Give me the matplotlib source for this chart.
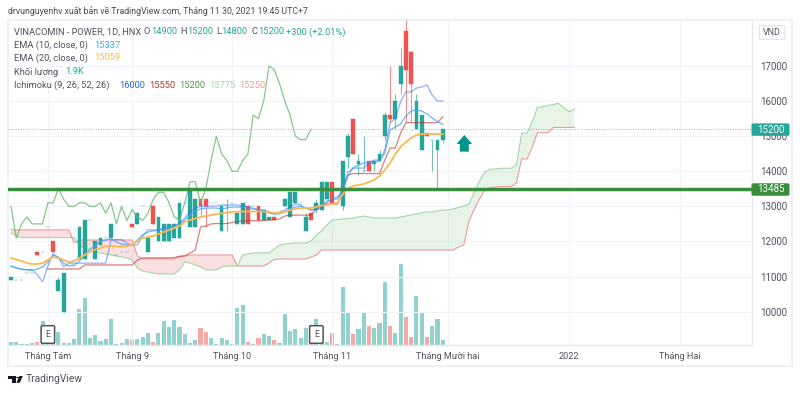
# VINACOMIN - POWER daily chart, TradingView look

import matplotlib
matplotlib.use("Agg")
import matplotlib.pyplot as plt
from matplotlib.patches import Rectangle, FancyBboxPatch, Polygon, Circle

plt.rcParams['font.family'] = ['Roboto', 'DejaVu Sans']

opens = [10900, 10900, 10900, 11100, 11100, 11700, 11700, 12400, 12000, 10600,
         10000, 11400, 11300, 11500, 11500, 12600, 11500, 11900, 12100, 12100,
         11600, 11700, 11700, 12500, 12500, 13000, 11700, 13000, 12000, 12000,
         12000, 12100, 12100, 13100, 12400, 12400, 13200, 13200, 13100, 13100,
         12300, 13000, 13100, 12500, 12500, 13000, 13000, 13000, 12600, 12600,
         12700, 12800, 13000, 12700, 13100, 13100, 12300, 12800, 12900, 12900,
         13200, 13700, 13500, 13000, 14400, 15500, 14200, 14000, 14300, 14200,
         14300, 15000, 15600, 15500, 16500, 18000, 17400, 15200, 14600, 15100,
         14900, 14600, 14900]
highs = [11000, 10900, 10900, 11100, 11100, 11700, 11700, 12400, 12000, 11000,
         11100, 11400, 11300, 12400, 12600, 12600, 12000, 12100, 12100, 12500,
         11600, 11700, 11700, 12500, 12800, 13000, 12100, 13000, 12700, 12500,
         12500, 12500, 13100, 13100, 13500, 13200, 13200, 13200, 13100, 13100,
         13000, 13200, 13100, 12800, 13100, 13000, 13000, 13000, 12900, 12700,
         12700, 12800, 13200, 13400, 13400, 13100, 12800, 12800, 13200, 13700,
         13700, 13700, 13500, 14300, 15100, 15500, 14500, 15000, 14300, 14300,
         14600, 15700, 17000, 16200, 17500, 18300, 17400, 16200, 15600, 15100,
         14900, 14900, 15200]
lows = [10900, 10900, 10900, 11100, 11100, 11600, 11700, 12400, 11700, 10600,
        10000, 11400, 11300, 11500, 11500, 12600, 11500, 11900, 12100, 12100,
        11600, 11700, 11700, 12400, 12500, 13000, 11700, 12500, 12000, 12000,
        12000, 12100, 12100, 13100, 12400, 12400, 12700, 12400, 13100, 13100,
        12300, 12300, 13100, 12500, 12500, 12500, 13000, 12600, 12600, 12600,
        12600, 12800, 13000, 12700, 13100, 13100, 12300, 12600, 12800, 12900,
        13200, 13100, 13500, 12900, 14100, 14500, 13900, 14000, 14000, 14000,
        14300, 14900, 15400, 15200, 16200, 15400, 15400, 15200, 14600, 15000,
        14000, 13500, 14800]
closes = [11000, 10900, 10900, 11100, 11100, 11600, 11700, 12400, 11700, 10900,
          11100, 11400, 11300, 12400, 12600, 12600, 12000, 12100, 12100, 12500,
          11600, 11700, 11700, 12400, 12800, 13000, 12100, 12500, 12700, 12500,
          12500, 12500, 13100, 13100, 13500, 13200, 13000, 13000, 13100, 13100,
          13000, 13000, 13100, 12800, 13100, 12500, 13000, 12600, 12900, 12700,
          12600, 12800, 13200, 13400, 13400, 13100, 12700, 12600, 13100, 13700,
          13700, 13100, 13500, 14300, 15000, 14500, 14300, 14000, 14000, 14300,
          14500, 15600, 15500, 16000, 17000, 16900, 16500, 16000, 15600, 15000,
          14900, 14900, 15200]
volumes = [1.0, 1.3, 0.3, 0.4, 0.8, 1.1, 9.1, 0.4, 0.6, 4.9,
           0.6, 0.6, 2.3, 13.7, 17.9, 2.7, 3.8, 1.5, 2.3, 9.9,
           0.4, 0.6, 2.3, 1.9, 2.3, 3.0, 4.6, 1.0, 4.6, 9.1,
           6.8, 9.5, 6.8, 4.2, 0.8, 1.9, 6.5, 4.9, 2.7, 0.4,
           2.5, 1.9, 0.4, 14.1, 15.2, 1.0, 0.4, 2.5, 4.2, 3.4,
           1.9, 0.8, 11.8, 5.3, 5.9, 2.5, 6.3, 0.8, 9.9, 1.1,
           1.1, 4.6, 0.4, 22.0, 12.2, 4.2, 5.9, 12.5, 7.4, 6.5,
           8.4, 23.9, 7.4, 4.6, 30.8, 10.8, 3.0, 18.6, 12.2, 3.0,
           7.2, 9.9, 1.9]

ema10 = [11300, 11243, 11215, 11186, 11172, 11215, 11272, 11414, 11614, 11557,
         11385, 11300, 11329, 11442, 11614, 11785, 11870, 12012, 12041, 12070,
         11984, 11927, 11899, 11899, 12041, 12184, 12269, 12298, 12326, 12355,
         12383, 12440, 12497, 12611, 12754, 12868, 12925, 12953, 12953, 12953,
         12925, 12953, 12981, 12981, 12981, 12953, 12925, 12896, 12868, 12811,
         12782, 12782, 12839, 12925, 12981, 13010, 12953, 12896, 12925, 13039,
         13152, 13210, 13210, 13466, 13865, 14093, 14179, 14235, 14264, 14264,
         14293, 14520, 15176, 15262, 15347, 15575, 15717, 15746, 15717, 15632,
         15518, 15418, 15337]
ema20 = [11528, 11485, 11442, 11385, 11357, 11357, 11385, 11471, 11557, 11528,
         11471, 11414, 11442, 11528, 11614, 11699, 11770, 11813, 11870, 11870,
         11856, 11856, 11870, 11899, 12012, 12098, 12126, 12155, 12212, 12269,
         12326, 12383, 12440, 12554, 12611, 12654, 12696, 12725, 12754, 12782,
         12796, 12825, 12839, 12848, 12853, 12853, 12853, 12853, 12853, 12839,
         12811, 12811, 12839, 12896, 12925, 12953, 12953, 12953, 12981, 13024,
         13039, 13067, 13095, 13352, 13509, 13580, 13609, 13637, 13694, 13751,
         13865, 14036, 14235, 14492, 14692, 14834, 14948, 15034, 15062, 15062,
         15062, 15062, 15059]
conversion = [11300, 11250, 11200, 11200, 11200, 11050, 10850, 11300, 11650, 11530,
              11280, 11380, 11380, 11380, 11380, 11380, 11380, 11380, 11380, 12050,
              12050, 12050, 11950, 11900, 11900, 12150, 12330, 12330, 12330, 12380,
              12380, 12440, 12500, 12670, 12840, 12950, 13000, 13000, 13010, 13010,
              13040, 13040, 13040, 13040, 13010, 12980, 12950, 12900, 12900, 12840,
              12780, 12840, 12900, 12980, 13070, 13040, 12950, 12900, 12900, 12980,
              13100, 13210, 13270, 13470, 13980, 14090, 14090, 14090, 14260, 14320,
              14320, 14610, 15375, 15520, 15980, 16260, 16260, 16370, 16400, 16460,
              16170, 16000, 16000]
# base line only shows from bar 7
base_start = 7
base = [11215, 11215, 11215, 11215, 11215, 11215, 11215, 11330, 11330, 11330,
        11330, 11330, 11330, 11330, 11330, 11330, 11330, 11470, 11530, 11530,
        11530, 11530, 11530, 11530, 11540, 11570, 11590, 11670, 11755, 12410,
        12440, 12500, 12510, 12510, 12510, 12540, 12570, 12580, 12590, 12590,
        12590, 12600, 12610, 12620, 12640, 12725, 12750, 12750, 12750, 12750,
        12750, 12925, 13050, 13065, 13065, 13065, 13470, 13890, 13935, 13935,
        13935, 13935, 13935, 13935, 14320, 14660, 14660, 15090, 15385, 15385,
        15385, 15385, 15385, 15385, 15385, 15550]
# closes shifted back 25 bars
lagging = [13000, 12100, 12500, 12700, 12500, 12500, 12500, 13100, 13100, 13500,
           13200, 13000, 13000, 13100, 13100, 13000, 13000, 13100, 12800, 13100,
           12500, 13000, 12600, 12900, 12700, 12600, 12800, 13200, 13400, 13400,
           13100, 12700, 12600, 13100, 13700, 13700, 13100, 13500, 14300, 15000,
           14500, 14300, 14000, 14000, 14300, 14500, 15600, 15500, 16000, 17000,
           16900, 16500, 16000, 15600, 15000, 14900, 14900, 15200]
lead_a = [12240, 12155, 12110, 12110, 12110, 12110, 12110, 12110, 12110, 12110,
          12110, 12110, 12110, 11870, 11813, 11756, 11699, 11670, 11642, 11614,
          11585, 11557, 11528, 11471, 11243, 11157, 11129, 11100, 11072, 11072,
          11072, 11072, 11186, 11414, 11385, 11329, 11272, 11186, 11186, 11186,
          11272, 11300, 11300, 11300, 11614, 11642, 11670, 11670, 11680, 11670,
          11785, 11899, 11927, 11941, 11955, 11955, 11955, 12012, 12184, 12298,
          12469, 12611, 12625, 12640, 12648, 12668, 12696, 12725, 12696, 12668,
          12668, 12668, 12668, 12668, 12696, 12725, 12754, 12782, 12811, 12839,
          12839, 12868, 12896, 12896, 12925, 12967, 13010, 13067, 13409, 13722,
          13979, 14056, 14065, 14085, 14085, 14085, 14179, 15082, 15082, 15404,
          15823, 15840, 15874, 15903, 15937, 15803, 15698, 15775]
lead_b = [12330, 12330, 12330, 12330, 12330, 12330, 12330, 12330, 12330, 12330,
          12330, 12330, 11955, 12041, 12041, 12041, 12041, 12041, 12041, 12041,
          12041, 12041, 12041, 12041, 11585, 11500, 11500, 11500, 11500, 11500,
          11500, 11500, 11585, 11585, 11614, 11614, 11614, 11614, 11614, 11614,
          11614, 11614, 11614, 11300, 11300, 11300, 11300, 11300, 11300, 11385,
          11485, 11500, 11500, 11500, 11500, 11500, 11500, 11557, 11614, 11756,
          11756, 11756, 11756, 11756, 11756, 11756, 11756, 11756, 11756, 11756,
          11756, 11756, 11756, 11756, 11756, 11756, 11756, 11756, 11756, 11756,
          11756, 11756, 11756, 11756, 11756, 11840, 11899, 12583, 12925, 13210,
          13480, 13523, 13552, 13560, 13560, 13560, 13665, 14350, 14350, 14690,
          15100, 15100, 15100, 15250, 15250, 15250, 15250, 15250]

date_ticks = [7, 23, 42, 61, 83, 106, 127]
date_labels = ["Tháng Tám", "Tháng 9", "Tháng 10", "Tháng 11", "Tháng Mười hai", "2022", "Tháng Hai"]
price_ticks = [10000, 11000, 12000, 13000, 14000, 15000, 16000, 17000]
earnings_bars = [7, 58]
support_price = 13485
last_price = 15200

TEAL = '#26a69a'
RED = '#ef5350'
W, H = 800, 393


def fx(px):
    return px / W


def fy(px):
    return 1 - px / H


fig = plt.figure(figsize=(8, 3.93), dpi=100, facecolor='white')
pos = [fx(7.5), fy(345), fx(752 - 7.5), (345 - 20) / H]

ax_vol = fig.add_axes(pos, zorder=1)
ax = fig.add_axes(pos, zorder=2, sharex=ax_vol)
ax.patch.set_visible(False)

# Volume
bars = list(range(len(closes)))
vol_colors = [RED if c < o else TEAL for o, c in zip(opens, closes)]
ax_vol.bar(bars, volumes, width=0.78, color=vol_colors, alpha=0.5, linewidth=0)
ax_vol.set_ylim(0, 123.5)
ax_vol.axis('off')

# Cloud
cloud_x = list(range(len(lead_a)))
ax.fill_between(cloud_x, lead_a, lead_b, where=[a >= b for a, b in zip(lead_a, lead_b)],
                interpolate=True, color='#a5d6a7', alpha=0.25, linewidth=0, zorder=1)
ax.fill_between(cloud_x, lead_a, lead_b, where=[a < b for a, b in zip(lead_a, lead_b)],
                interpolate=True, color='#ef9a9a', alpha=0.3, linewidth=0, zorder=1)
ax.plot(cloud_x, lead_a, color='#a5d6a7', lw=0.8, zorder=2)
ax.plot(cloud_x, lead_b, color='#ef9a9a', lw=0.8, zorder=2)

# Candles
candle_colors = vol_colors
ax.vlines(bars, lows, highs, colors=candle_colors, lw=0.8, alpha=0.65, zorder=3)
ax.bar(bars, [abs(c - o) for o, c in zip(opens, closes)], bottom=[min(o, c) for o, c in zip(opens, closes)],
       width=0.72, color=candle_colors, edgecolor=candle_colors, linewidth=0.3, zorder=4)

# Indicators
ax.plot(range(len(lagging)), lagging, color='#66bb6a', lw=0.9, alpha=0.8, zorder=5)
ax.plot(range(base_start, base_start + len(base)), base, color='#c62828', lw=0.9, alpha=0.6, zorder=5)
ax.plot(bars, conversion, color='#2962ff', lw=0.9, alpha=0.5, zorder=5)
ax.plot(bars, ema10, color='#42a5f5', lw=0.9, alpha=0.8, zorder=6)
ax.plot(bars, ema20, color='#ffb74d', lw=1.3, zorder=6)

ax.axhline(last_price, color=TEAL, lw=0.7, ls=(0, (1, 1.5)), alpha=0.6, zorder=6)
ax.axhline(support_price, color='#388e3c', lw=2.5, zorder=7)

# Up arrow
ax.arrow(86.1, 14558, 0, 476, width=1.7, head_width=2.96, head_length=257,
         length_includes_head=True, color='#009688', linewidth=0, zorder=7)

# Axes
ax.set_xlim((7.5 - 11) / 5.265, (752 - 11) / 5.265)
ax.set_ylim(18881 - 28.5 * 345, 18881 - 28.5 * 20)
ax.yaxis.tick_right()
ax.set_yticks(price_ticks)
ax.set_xticks(date_ticks)
ax.set_xticklabels(date_labels)
ax.tick_params(axis='both', length=0, labelcolor='#50535e')
ax.tick_params(axis='y', pad=6, labelsize=7)
ax.tick_params(axis='x', pad=5, labelsize=6.6)
ax.grid(color='#f0f3fa', lw=0.8)
ax.set_axisbelow(True)
for side in ['top', 'left']:
    ax.spines[side].set_visible(False)
for side in ['bottom', 'right']:
    ax.spines[side].set_color('#e6e8ee')
    ax.spines[side].set_linewidth(1)

# Earnings markers
for b in earnings_bars:
    ax.text(b, 9348, "E", ha='center', va='center', fontsize=6.2, color='#50535e', zorder=8,
            bbox=dict(boxstyle='round,pad=0.5,rounding_size=0.15', fc='white', ec='#50535e', lw=1.1))

# Frame around chart
fig.add_artist(Rectangle((fx(7.5), fy(365.7)), fx(792 - 7.5), (365.7 - 20) / H, fill=False,
                         ec='#eceef4', lw=1.2, transform=fig.transFigure))

# Price labels
for val, y, col in [(last_price, 129.6, TEAL), (support_price, 189.5, '#388e3c')]:
    fig.add_artist(FancyBboxPatch((fx(753.5), fy(y + 5)), fx(34), 10 / H, boxstyle='round,pad=0.002',
                                  fc=col, ec=col, lw=0.5, transform=fig.transFigure, zorder=10))
    fig.text(fx(771), fy(y), str(val), color='white', fontsize=7, ha='center', va='center', zorder=11)

# Currency badge
fig.add_artist(FancyBboxPatch((fx(761), fy(38.5)), fx(22.5), 12 / H, boxstyle='round,pad=0.002',
                              fc='white', ec='#e0e3eb', lw=0.8, transform=fig.transFigure))
fig.text(fx(772.2), fy(32.5), "VND", color='#50535e', fontsize=6.4, ha='center', va='center')

# Header and legend
fig.text(fx(8), fy(11), "drvunguyenhv xuất bản về TradingView.com, Tháng 11 30, 2021 19:45 UTC+7",
         color='#4a4a4a', fontsize=6.3, va='center')

legend_rows = [
    (32, [(14, "VINACOMIN - POWER, 1D, HNX", '#50535e'), (144, "O", '#50535e'), (151, "14900", TEAL),
          (180, "H", '#50535e'), (187, "15200", TEAL), (216, "L", '#50535e'), (221.5, "14800", TEAL),
          (251.5, "C", '#50535e'), (258, "15200", TEAL), (286, "+300 (+2.01%)", TEAL)]),
    (45, [(14, "EMA (10, close, 0)", '#50535e'), (94, "15337", '#42a5f5')]),
    (58, [(14, "EMA (20, close, 0)", '#50535e'), (94, "15059", '#ffb74d')]),
    (72, [(14, "Khối lượng", '#50535e'), (65.5, "1.9K", TEAL)]),
    (85, [(14, "Ichimoku (9, 26, 52, 26)", '#50535e'), (119, "16000", '#2962ff'), (149, "15550", '#c62828'),
          (179, "15200", '#43a047'), (209, "15775", '#a5d6a7'), (239, "15250", '#ef9a9a')]),
]
for y, parts in legend_rows:
    for x, txt, col in parts:
        fig.text(fx(x), fy(y), txt, color=col, fontsize=6.7, va='center', zorder=9)

# TradingView logo
logo = '#131722'
fig.add_artist(Rectangle((fx(7.5), fy(379)), fx(8), 3 / H, fc=logo, ec='none', transform=fig.transFigure))
fig.add_artist(Rectangle((fx(11.5), fy(382.7)), fx(4), 6 / H, fc=logo, ec='none', transform=fig.transFigure))
fig.add_artist(Circle((fx(17.6), fy(377.5)), fx(1.4), fc=logo, ec='none', transform=fig.transFigure))
fig.add_artist(Polygon([(fx(19.5), fy(376)), (fx(22.8), fy(376)), (fx(19.8), fy(382.7)), (fx(16.3), fy(382.7))],
                       fc=logo, ec='none', transform=fig.transFigure))
fig.text(fx(26), fy(379.3), "TradingView", color='#50535e', fontsize=7.4, va='center')

fig.savefig("out.png", dpi=100)
